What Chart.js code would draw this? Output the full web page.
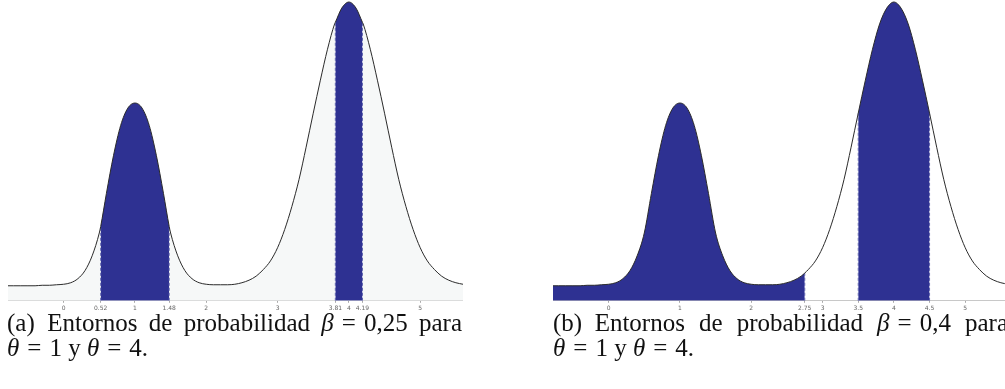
<!DOCTYPE html>
<html>
<head>
<meta charset="utf-8">
<script src="https://cdn.jsdelivr.net/npm/chart.js@4/dist/chart.umd.min.js"></script>
<style>
  html, body { margin: 0; padding: 0; background: #fff; width: 1005px; height: 389px; overflow: hidden; }
  .panel { position: absolute; top: 0; width: 455px; height: 314px; }
  .cap { position: absolute; top: 310px; width: 455px; font-family: 'Liberation Serif', 'Times New Roman', serif;
         font-size: 25px; line-height: 25px; color: #111; }
  .cap .l1 { text-align: justify; text-align-last: justify; white-space: normal; }
  .cap .rel { margin: 0 8px; }
</style>
</head>
<body>
<div class="panel" style="left:8px"><canvas id="chartA" width="455" height="314"></canvas></div>
<div class="panel" style="left:553px"><canvas id="chartB" width="455" height="314"></canvas></div>

<div class="cap" style="left:7px">
  <div class="l1">(a)&ensp;Entornos de probabilidad <i>β</i><span class="rel">=</span>0,25 para</div>
  <div><i>θ</i><span class="rel">=</span>1 y <i>θ</i><span class="rel">=</span>4.</div>
</div>
<div class="cap" style="left:553px">
  <div class="l1">(b)&ensp;Entornos de probabilidad <i>β</i><span class="rel">=</span>0,4 para</div>
  <div><i>θ</i><span class="rel">=</span>1 y <i>θ</i><span class="rel">=</span>4.</div>
</div>

<script>
// curva de densidad
const xs = [-0.8, -0.7, -0.6, -0.5, -0.4, -0.3, -0.2, -0.1, 0.0, 0.1, 0.2, 0.3, 0.4, 0.5, 0.6, 0.7,
            0.8, 0.9, 1.0, 1.1, 1.2, 1.3, 1.4, 1.5, 1.6, 1.7, 1.8, 1.9, 2.0, 2.1, 2.2, 2.3,
            2.4, 2.5, 2.6, 2.7, 2.8, 2.9, 3.0, 3.1, 3.2, 3.3, 3.4, 3.5, 3.6, 3.7, 3.8, 3.9,
            4.0, 4.1, 4.2, 4.3, 4.4, 4.5, 4.6, 4.7, 4.8, 4.9, 5.0, 5.1, 5.2, 5.3, 5.4, 5.5, 5.6];
const density = [0.000, 0.000, 0.000, 0.000, 0.000, 0.001, 0.001, 0.002, 0.003, 0.006, 0.014, 0.030, 0.059, 0.104, 0.182, 0.257,
                 0.316, 0.350, 0.360, 0.350, 0.316, 0.257, 0.182, 0.104, 0.059, 0.030, 0.014, 0.006, 0.003, 0.002, 0.002, 0.002,
                 0.003, 0.006, 0.011, 0.019, 0.032, 0.049, 0.075, 0.111, 0.156, 0.209, 0.273, 0.340, 0.405, 0.466, 0.516, 0.547,
                 0.559, 0.547, 0.516, 0.466, 0.405, 0.340, 0.273, 0.209, 0.156, 0.111, 0.075, 0.049, 0.032, 0.019, 0.011, 0.006, 0.003];

// valores de la curva en los extremos de los entornos
const edgeX = [0.52, 1.48, 3.81, 4.19, 2.75, 3.5, 4.5];
const edgeY = [0.117, 0.117, 0.519, 0.519, 0.025, 0.340, 0.340];

// (a) beta = 0.25
const ticksA = [0, 0.52, 1, 1.48, 2, 3, 3.81, 4, 4.19, 5];
const intervalsA = [[0.52, 1.48], [3.81, 4.19]];
// (b) beta = 0.4
const ticksB = [0, 1, 2, 2.75, 3, 3.5, 4, 4.5, 5];
const intervalsB = [[-0.8, 2.75], [3.5, 4.5]];

const X_MIN = -0.78, X_MAX = 5.6;
const Y_MIN = -0.0296, Y_MAX = 0.563;
const BLUE = '#2e3192';

function edgeValue(x) {
    const i = edgeX.indexOf(x);
    return i >= 0 ? edgeY[i] : null;
}

// puntos de la curva + extremos de los entornos
function curvePoints(intervals) {
    const pts = xs.map((x, i) => ({ x: x, y: density[i] }));
    intervals.flat().forEach(b => {
        const v = edgeValue(b);
        if (v !== null && !xs.includes(b)) pts.push({ x: b, y: v });
    });
    return pts.sort((p, q) => p.x - q.x);
}

function buildChart(id, ticks, intervals, shadeUnder) {
    const pts = curvePoints(intervals);
    const datasets = [];

    // linea de la densidad (encima de todo)
    datasets.push({
        data: pts, borderColor: '#2b2b2b', borderWidth: 1, pointRadius: 0,
        cubicInterpolationMode: 'monotone', fill: false
    });

    // bordes discontinuos
    intervals.flat().forEach(b => {
        const v = edgeValue(b);
        if (v === null) return;
        datasets.push({
            data: [{ x: b, y: Y_MIN }, { x: b, y: v }],
            borderColor: '#5b5fae', borderWidth: 1, borderDash: [3, 2],
            pointRadius: 0, fill: false
        });
    });

    // areas azules
    intervals.forEach(([lo, hi]) => {
        datasets.push({
            data: pts.filter(p => p.x >= lo && p.x <= hi),
            borderWidth: 0, borderColor: BLUE, backgroundColor: BLUE, pointRadius: 0,
            cubicInterpolationMode: 'monotone', fill: 'start'
        });
    });

    // fondo claro bajo la curva
    if (shadeUnder) {
        datasets.push({
            data: pts, borderWidth: 0, backgroundColor: '#f6f8f8', pointRadius: 0,
            cubicInterpolationMode: 'monotone', fill: 'start'
        });
    }

    new Chart(document.getElementById(id), {
        type: 'line',
        data: { datasets: datasets },
        options: {
            responsive: false,
            animation: false,
            devicePixelRatio: 1,
            layout: { padding: 0 },
            plugins: { legend: { display: false }, tooltip: { enabled: false } },
            scales: {
                x: {
                    type: 'linear', min: X_MIN, max: X_MAX,
                    afterBuildTicks: axis => { axis.ticks = ticks.map(v => ({ value: v })); },
                    ticks: {
                        autoSkip: false, maxRotation: 0, padding: 2, color: '#666',
                        font: { family: 'DejaVu Sans', size: 6 },
                        callback: v => String(v)
                    },
                    grid: { drawOnChartArea: false, tickLength: 2, color: '#aaa' },
                    border: { color: '#c8c8c8' }
                },
                y: { display: false, min: Y_MIN, max: Y_MAX }
            }
        }
    });
}

buildChart('chartA', ticksA, intervalsA, true);
buildChart('chartB', ticksB, intervalsB, false);
</script>
</body>
</html>
